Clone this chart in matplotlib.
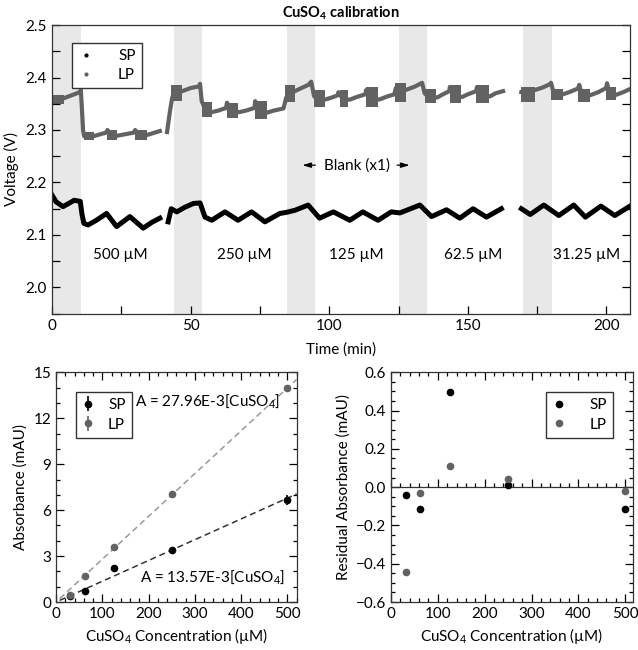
import numpy as np
import matplotlib
matplotlib.use("Agg")
import matplotlib.pyplot as plt
from matplotlib.lines import Line2D
from matplotlib.ticker import MultipleLocator

plt.rcParams["font.family"] = ["Lato", "DejaVu Sans"]
plt.rcParams["mathtext.default"] = "regular"
plt.rcParams["font.size"] = 10

nan = np.nan

# ---- time trace (min, V); NaN = gap in recording
sp_t = [0, 1.5, 4, 6, 8, 10.2, 10.8, 11.5, 13, 16, 19.7, 23.3, 28.1, 32.9, 36, 38.9, nan,
        41.9, 43, 45, 48, 51, 53.4, 55.2, 57.6, 62.4, 67.1, 72, 76.8, 82.2, 84.5, 87.6, 92.4,
        96.5, 101.5, 107.4, 112.1, 117.6, 122.4, 125.5, 132.7, 136.9, 142.3, 147.1, 151.9,
        156.7, 162.1, nan,
        169.3, 172.5, 177.4, 182.8, 188.2, 192.4, 198, 203, 208.5]
sp_v = [2.176, 2.163, 2.154, 2.160, 2.166, 2.164, 2.140, 2.122, 2.119, 2.128, 2.141, 2.116,
        2.135, 2.113, 2.124, 2.132, nan,
        2.125, 2.150, 2.144, 2.153, 2.160, 2.161, 2.134, 2.128, 2.144, 2.128, 2.144, 2.125,
        2.141, 2.143, 2.147, 2.157,
        2.132, 2.144, 2.128, 2.144, 2.128, 2.144, 2.142, 2.157, 2.135, 2.148, 2.132, 2.150,
        2.134, 2.150, nan,
        2.150, 2.139, 2.157, 2.137, 2.157, 2.134, 2.155, 2.137, 2.155]

lp_t = [0, 2, 4, 6, 8, 10, 10.4, 10.8, 11.2, 11.6, 13, 15.5, 19.5, 20, 21.5, 23.5, 29.5, 30,
        31.5, 34, 38.9, nan,
        41.5, 42.5, 43.3, 44, 47, 50, 53, 53.4, 54, 55.5, 57.6, 60, 62.8, 63.1, 65, 67.5, 70,
        73, 73.3, 75, 77.5, 80, 83.5, 84.5, 86, 88, 90, 92.5, 93.5, 94.5, 96, 98.5, 101, 103,
        103.3, 105, 107.5, 110, 113, 113.3, 115, 118, 121, 123.5, 124, 126, 128, 131, 133.5,
        134.4, 136, 139, 141, 143.3, 143.5, 145, 148, 150, 153, 153.3, 155, 158, 160, 162.7, nan,
        169.3, 171, 174.1, 177, 179.5, 180, 181, 184.3, 187, 189.7, 190.2, 191, 194, 197,
        199.9, 200.2, 201, 203.5, 206, 208.5]
lp_v = [2.358, 2.357, 2.360, 2.364, 2.368, 2.372, 2.376, 2.340, 2.300, 2.288, 2.287, 2.289,
        2.295, 2.300, 2.290, 2.289, 2.295, 2.300, 2.290, 2.290, 2.298, nan,
        2.296, 2.334, 2.360, 2.372, 2.374, 2.380, 2.383, 2.388, 2.355, 2.337, 2.334, 2.337,
        2.342, 2.352, 2.335, 2.334, 2.337, 2.342, 2.355, 2.335, 2.333, 2.337, 2.341, 2.362,
        2.370, 2.375, 2.380, 2.386, 2.392, 2.365, 2.355, 2.358, 2.362, 2.366, 2.372, 2.358,
        2.358, 2.363, 2.368, 2.376, 2.360, 2.358, 2.364, 2.368, 2.380, 2.375, 2.377, 2.383,
        2.390, 2.370, 2.362, 2.362, 2.368, 2.374, 2.382, 2.365, 2.363, 2.368, 2.374, 2.382,
        2.365, 2.364, 2.370, 2.374, nan,
        2.372, 2.370, 2.376, 2.381, 2.387, 2.390, 2.370, 2.368, 2.373, 2.379, 2.386, 2.370,
        2.366, 2.372, 2.380, 2.389, 2.372, 2.367, 2.372, 2.378]

# dense pump-cycle patches on the LP trace: start, end, top, bottom
blk_start = [0, 11.4, 19.8, 29.9, 42.8, 54, 63, 73.2, 84, 94.6, 103.8, 113.4, 123.6, 134.4,
             143.4, 153, 169.3, 180, 189.7, 199.9]
blk_end = [4.5, 15.2, 23.4, 34.1, 46.8, 57.6, 67, 77.4, 87.6, 98.4, 106.8, 117.6, 127.8, 138.6,
           147.6, 157.8, 174.1, 184.3, 193.9, 203.5]
blk_top = [2.366, 2.296, 2.300, 2.300, 2.385, 2.354, 2.352, 2.355, 2.386, 2.376, 2.376, 2.382,
           2.389, 2.379, 2.385, 2.385, 2.382, 2.379, 2.379, 2.382]
blk_bot = [2.350, 2.281, 2.281, 2.281, 2.356, 2.325, 2.322, 2.320, 2.354, 2.344, 2.344, 2.344,
           2.354, 2.351, 2.351, 2.351, 2.354, 2.357, 2.354, 2.357]

blank_start = [0, 44, 84.7, 125, 170]
blank_end = [10.5, 54, 94.8, 135.4, 180.2]
conc_labels = ["500 µM", "250 µM", "125 µM", "62.5 µM", "31.25 µM"]
conc_label_t = [24.5, 69.5, 109.6, 151.8, 193]

# ---- calibration
conc = [31.25, 62.5, 125, 250, 500]
sp_abs = [0.38, 0.73, 2.19, 3.40, 6.67]
lp_abs = [0.43, 1.72, 3.61, 7.04, 13.96]
sp_err = [0.1, 0.1, 0.12, 0.12, 0.35]
lp_err = [0.1, 0.1, 0.1, 0.12, 0.15]
sp_slope = 13.57e-3
lp_slope = 27.96e-3
fit_x = np.array([8, 520])
sp_res = [-0.043, -0.113, 0.496, 0.009, -0.113]
lp_res = [-0.443, -0.028, 0.113, 0.043, -0.019]

lp_col = "#626262"
sp_col = "black"
fs = 11

fig = plt.figure(figsize=(6.38, 6.5), dpi=100)
ax1 = fig.add_axes([0.0815, 0.5174, 0.906, 0.4441])
ax2 = fig.add_axes([0.0878, 0.0738, 0.3772, 0.3534])
ax3 = fig.add_axes([0.6129, 0.0738, 0.3788, 0.3534])

# top: voltage trace
for s, e in zip(blank_start, blank_end):
    ax1.axvspan(s, e, color="#e8e8e8", lw=0, zorder=0)
ax1.plot(sp_t, sp_v, color=sp_col, lw=3.6, solid_joinstyle="round")
ax1.plot(lp_t, lp_v, color=lp_col, lw=3.0, solid_joinstyle="round")
ax1.bar(blk_start, np.array(blk_top) - np.array(blk_bot), bottom=blk_bot,
        width=np.array(blk_end) - np.array(blk_start), align="edge", color=lp_col, lw=0)
for lab, t in zip(conc_labels, conc_label_t):
    ax1.text(t, 2.062, lab, ha="center", va="center", fontsize=fs)
ax1.text(110, 2.233, "Blank (x1)", ha="center", va="center", fontsize=fs)
arr = dict(arrowstyle="-|>,head_length=0.5,head_width=0.15", color="black", lw=0.9)
ax1.annotate("", xy=(89.3, 2.233), xytext=(96, 2.233), arrowprops=arr)
ax1.annotate("", xy=(130, 2.233), xytext=(123.5, 2.233), arrowprops=arr)

ax1.set_xlim(0, 208.5)
ax1.set_ylim(1.95, 2.5)
ax1.xaxis.set_major_locator(MultipleLocator(50))
ax1.xaxis.set_minor_locator(MultipleLocator(25))
ax1.yaxis.set_major_locator(MultipleLocator(0.1))
ax1.yaxis.set_minor_locator(MultipleLocator(0.05))
ax1.tick_params(which="both", direction="in", top=False, right=True, length=6, width=0.9,
                labelsize=fs)
ax1.set_xlabel("Time (min)", fontsize=fs, labelpad=7)
ax1.set_ylabel("Voltage (V)", fontsize=fs, labelpad=5)
ax1.set_title("CuSO$_4$ calibration", fontsize=10.5, fontweight="bold", pad=5)
h1 = [Line2D([], [], ls="none", marker="o", ms=2, color=sp_col),
      Line2D([], [], ls="none", marker="o", ms=2, color=lp_col)]
ax1.legend(h1, ["SP", "LP"], loc="upper left", bbox_to_anchor=(0.035, 0.938), fancybox=False,
           edgecolor="#333333", framealpha=1, handlelength=1.0, handletextpad=1.6,
           borderpad=0.4, labelspacing=0.35, borderaxespad=0, fontsize=fs)

# bottom left: calibration lines
ax2.plot(fit_x, sp_slope * fit_x, ls=(0, (4, 2.5)), color="#333333", lw=1.1)
ax2.plot(fit_x, lp_slope * fit_x, ls=(0, (4, 2.5)), color="#999999", lw=1.1)
ax2.errorbar(conc, sp_abs, yerr=sp_err, fmt="o", color=sp_col, ms=4.5, elinewidth=1.2,
             capsize=0, label="SP", zorder=3)
ax2.errorbar(conc, lp_abs, yerr=lp_err, fmt="o", color=lp_col, ms=4.5, elinewidth=1.2,
             capsize=0, label="LP", zorder=3)
ax2.text(171, 13.1, "A = %.2fE-3[CuSO$_4$]" % (lp_slope * 1e3), ha="left", va="center",
         fontsize=fs)
ax2.text(182, 1.65, "A = %.2fE-3[CuSO$_4$]" % (sp_slope * 1e3), ha="left", va="center",
         fontsize=fs)
ax2.set_xlim(0, 520)
ax2.set_ylim(0, 15)
ax2.xaxis.set_major_locator(MultipleLocator(100))
ax2.xaxis.set_minor_locator(MultipleLocator(20))
ax2.yaxis.set_major_locator(MultipleLocator(3))
ax2.yaxis.set_minor_locator(MultipleLocator(1))
ax2.set_xlabel("CuSO$_4$ Concentration (µM)", fontsize=fs)
ax2.set_ylabel("Absorbance (mAU)", fontsize=fs)
ax2.legend(loc="upper left", bbox_to_anchor=(0.083, 0.914), fancybox=False,
           edgecolor="#333333", framealpha=1, handlelength=0.8, handletextpad=0.9,
           borderpad=0.4, labelspacing=0.35, borderaxespad=0, fontsize=fs)

# bottom right: residuals
ax3.axhline(0, color="#333333", lw=0.9)
ax3.plot(conc, sp_res, "o", color=sp_col, ms=4.5, label="SP", zorder=3)
ax3.plot(conc, lp_res, "o", color=lp_col, ms=4.5, label="LP", zorder=3)
ax3.set_xlim(0, 516)
ax3.set_ylim(-0.6, 0.6)
ax3.xaxis.set_major_locator(MultipleLocator(100))
ax3.xaxis.set_minor_locator(MultipleLocator(20))
ax3.yaxis.set_major_locator(MultipleLocator(0.2))
ax3.yaxis.set_minor_locator(MultipleLocator(0.05))
ax3.set_xlabel("CuSO$_4$ Concentration (µM)", fontsize=fs)
ax3.set_ylabel("Residual Absorbance (mAU)", fontsize=fs)
ax3.legend(loc="upper right", bbox_to_anchor=(0.918, 0.914), fancybox=False,
           edgecolor="#333333", framealpha=1, handlelength=0.8, handletextpad=1.6,
           borderpad=0.4, labelspacing=0.35, borderaxespad=0, fontsize=fs)
zero_ax = ax3.secondary_xaxis(0.5)
zero_ax.xaxis.set_major_locator(MultipleLocator(100))
zero_ax.xaxis.set_minor_locator(MultipleLocator(20))
zero_ax.tick_params(which="both", direction="out", labeltop=False, labelbottom=False,
                    width=0.9)
zero_ax.tick_params(which="major", length=6)
zero_ax.tick_params(which="minor", length=3)
zero_ax.spines[:].set_visible(False)

for ax in (ax2, ax3):
    ax.tick_params(which="both", direction="in", top=True, right=True, width=0.9,
                   labelsize=fs)
    ax.tick_params(which="major", length=6)
    ax.tick_params(which="minor", length=3)

for ax in (ax1, ax2, ax3):
    for sp in ax.spines.values():
        sp.set_linewidth(0.9)
        sp.set_color("#333333")

fig.savefig("out.png", dpi=100)
